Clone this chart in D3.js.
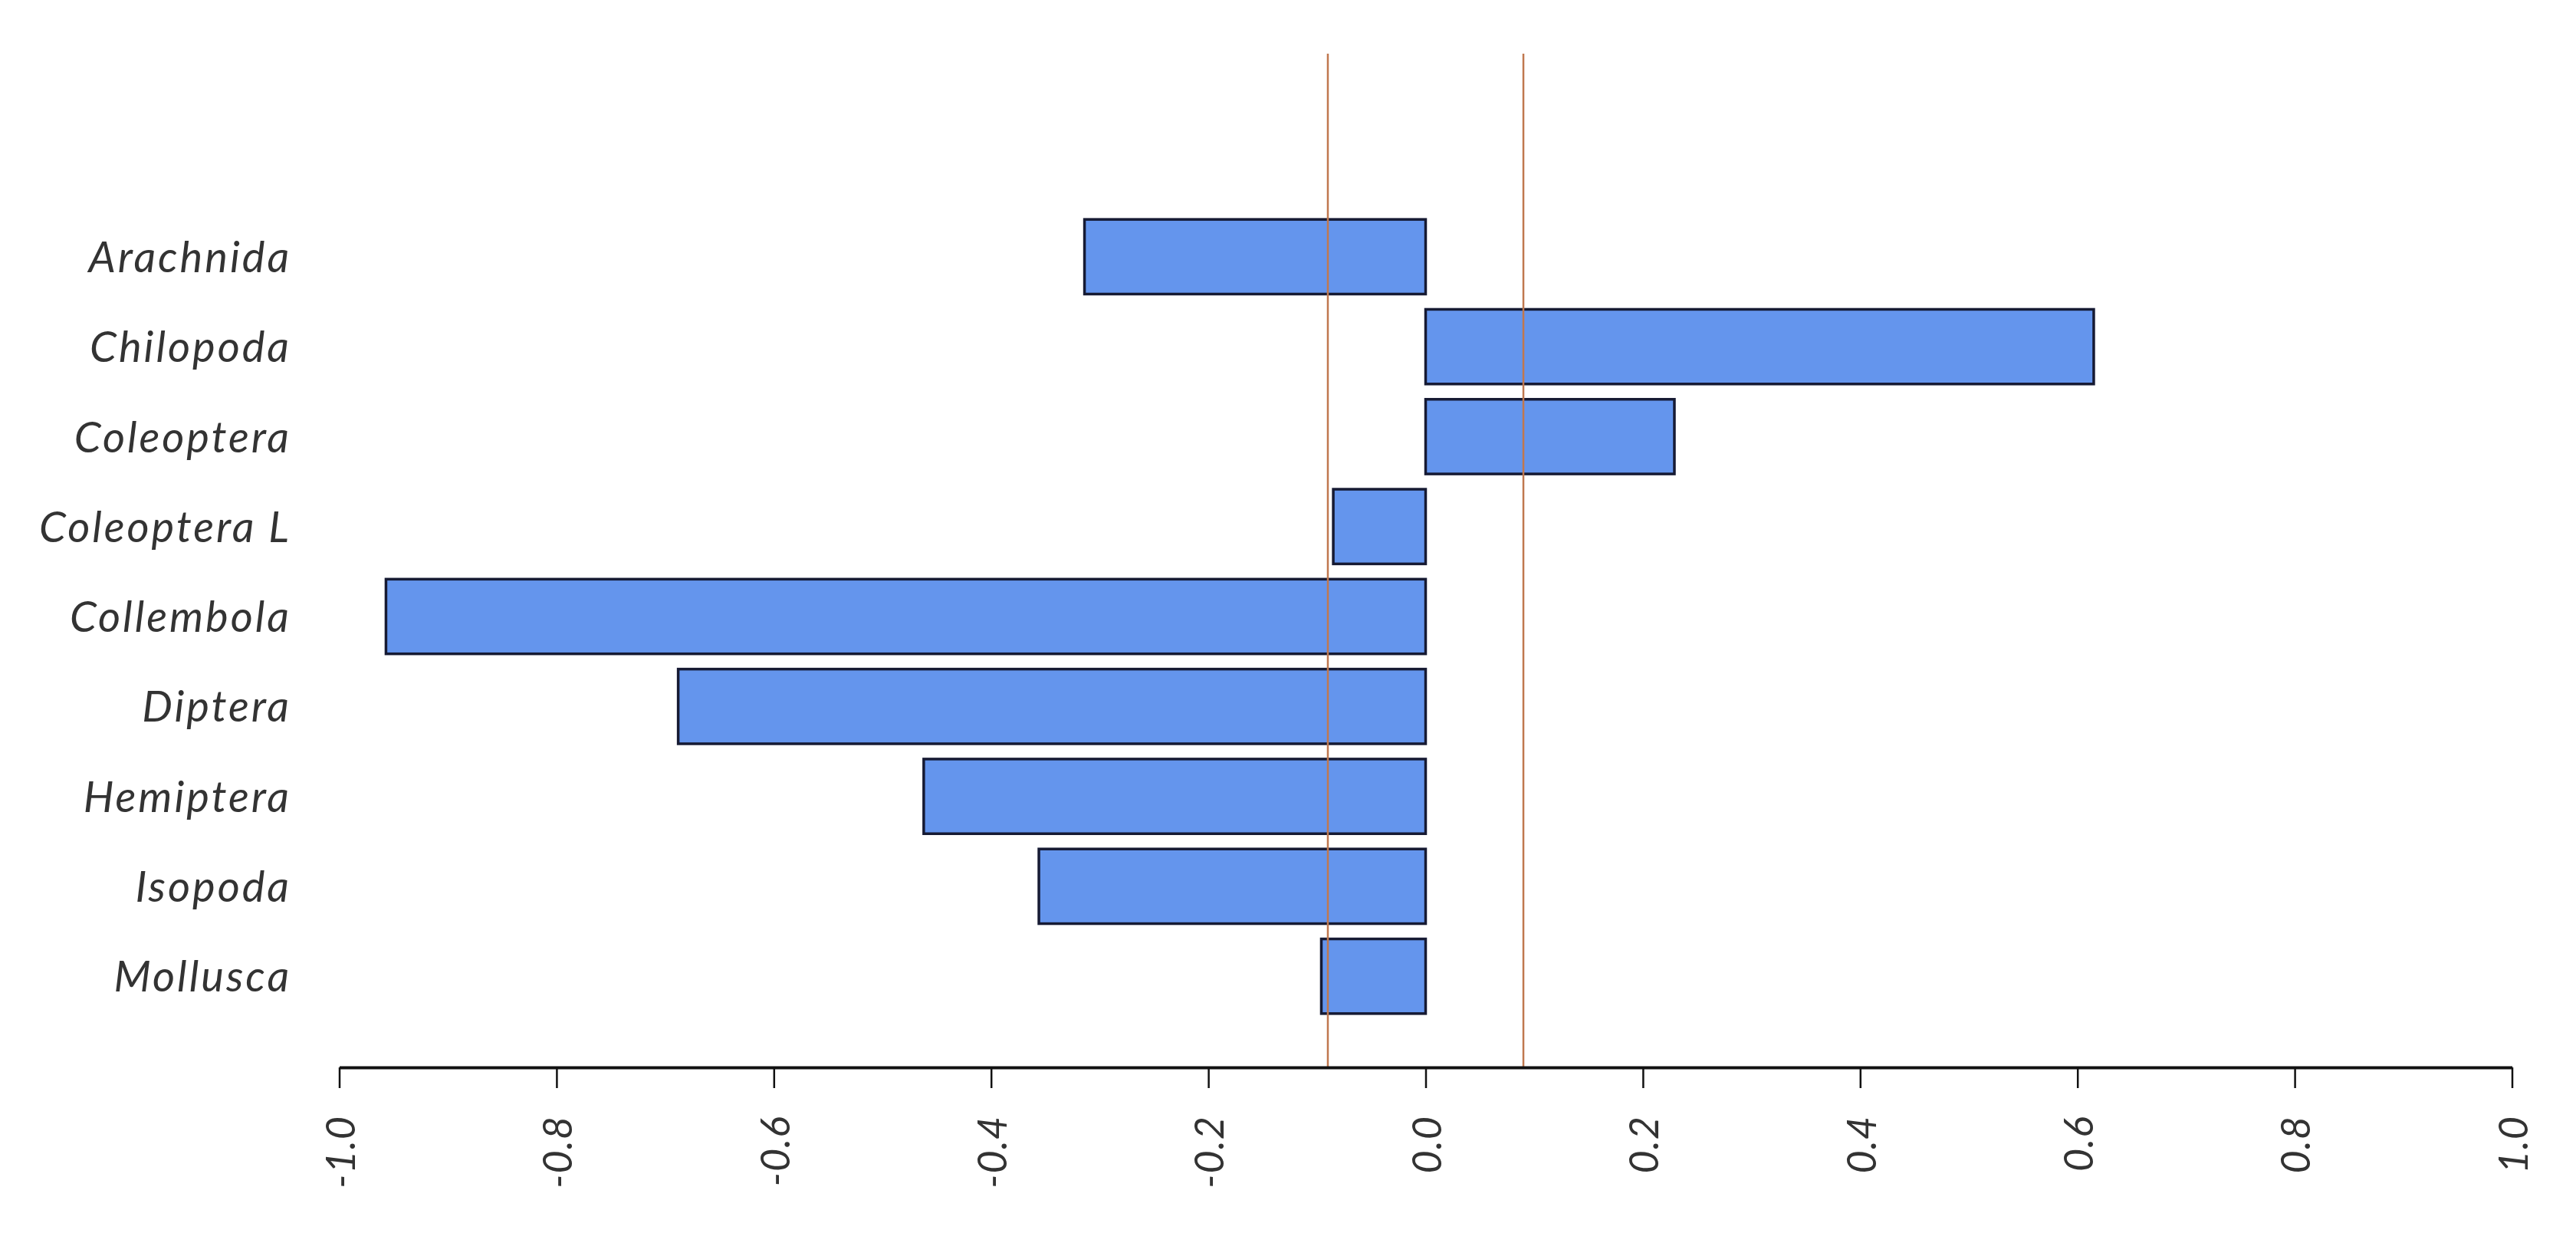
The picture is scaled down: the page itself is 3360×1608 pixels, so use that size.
<!DOCTYPE html>
<html>
<head>
<meta charset="utf-8">
<script src="https://cdn.jsdelivr.net/npm/d3@7"></script>
<style>
  html, body { margin: 0; padding: 0; background: #ffffff; }
  svg { display: block; }
</style>
</head>
<body>
<svg id="chart" width="3360" height="1608"></svg>
<script>
// ---- data ----
const categories = ["Arachnida", "Chilopoda", "Coleoptera", "Coleoptera L", "Collembola", "Diptera", "Hemiptera", "Isopoda", "Mollusca"];
const values = [-0.314, 0.615, 0.229, -0.085, -0.957, -0.688, -0.462, -0.356, -0.096];
const tickValues = [-1.0, -0.8, -0.6, -0.4, -0.2, 0.0, 0.2, 0.4, 0.6, 0.8, 1.0];
const tickLabels = ["-1.0", "-0.8", "-0.6", "-0.4", "-0.2", "0.0", "0.2", "0.4", "0.6", "0.8", "1.0"];
const refLines = [-0.09, 0.09];

// ---- layout ----
const svg = d3.select("#chart");
const axisY = 1392;
const fontFam = "Lato, 'Open Sans', 'DejaVu Sans', sans-serif";

const x = d3.scaleLinear().domain([-1, 1]).range([442.5, 3276.5]);
const y = d3.scaleBand().domain(categories).range([227.5, 1380.5]).paddingInner(0.17).paddingOuter(0.5);

// bars
svg.append("g").selectAll("rect")
  .data(categories.map((c, i) => ({ c, v: values[i] })))
  .join("rect")
  .attr("x", d => x(Math.min(0, d.v)))
  .attr("width", d => Math.abs(x(d.v) - x(0)))
  .attr("y", d => y(d.c))
  .attr("height", y.bandwidth())
  .attr("fill", "#6495ED")
  .attr("stroke", "#161a33")
  .attr("stroke-width", 3.5);

// reference lines
svg.append("g").selectAll("line")
  .data(refLines)
  .join("line")
  .attr("x1", d => x(d)).attr("x2", d => x(d))
  .attr("y1", 70).attr("y2", axisY)
  .attr("stroke", "#C0784F")
  .attr("stroke-width", 2.5);

// category labels
svg.append("g").selectAll("text")
  .data(categories)
  .join("text")
  .attr("x", 380)
  .attr("y", d => y(d) + y.bandwidth() / 2)
  .attr("dy", "0.36em")
  .attr("text-anchor", "end")
  .attr("font-family", fontFam)
  .attr("font-style", "italic")
  .attr("font-weight", 400)
  .attr("letter-spacing", 3)
  .attr("font-size", 56)
  .attr("fill", "#333")
  .text(d => d);

// x axis
const axis = d3.axisBottom(x)
  .tickValues(tickValues)
  .tickSize(27)
  .tickSizeOuter(0)
  .tickFormat((d, i) => tickLabels[i]);

const gAxis = svg.append("g")
  .attr("transform", `translate(0,${axisY})`)
  .call(axis);

gAxis.select(".domain").attr("stroke", "#111").attr("stroke-width", 4);
gAxis.selectAll(".tick line").attr("stroke", "#111").attr("stroke-width", 2.5);
gAxis.selectAll(".tick text")
  .attr("transform", "rotate(-90)")
  .attr("x", -63)
  .attr("y", 0)
  .attr("dy", "0.38em")
  .attr("text-anchor", "end")
  .attr("font-family", fontFam)
  .attr("font-style", "italic")
  .attr("font-weight", 400)
  .attr("letter-spacing", 1)
  .attr("font-size", 52)
  .attr("fill", "#333");
</script>
</body>
</html>
